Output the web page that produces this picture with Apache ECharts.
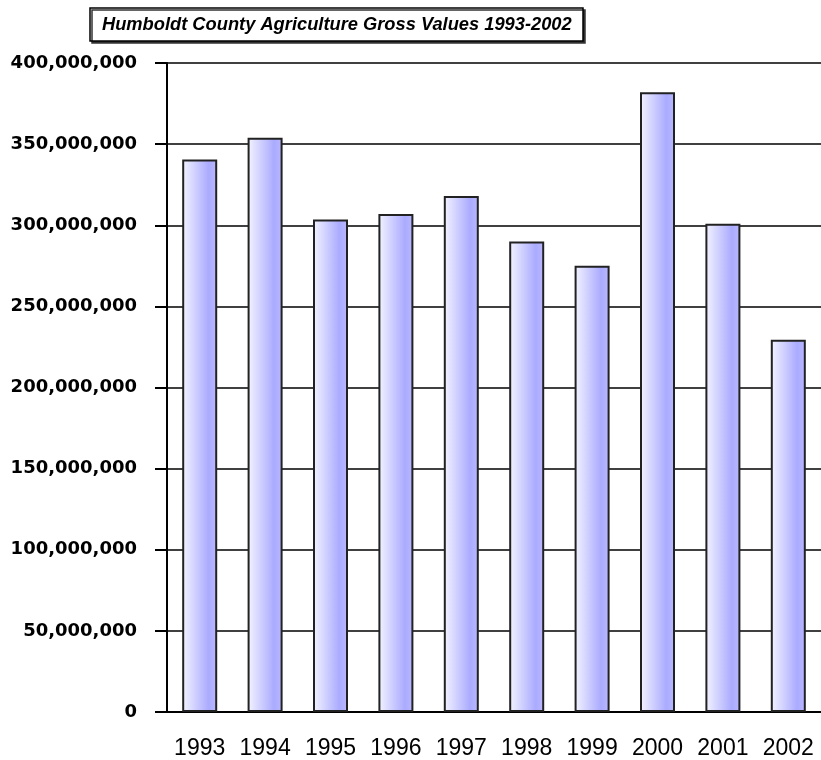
<!DOCTYPE html>
<html><head><meta charset="utf-8">
<script src="https://cdn.jsdelivr.net/npm/echarts@6/dist/echarts.min.js"></script>
<style>html,body{margin:0;padding:0;background:#fff}#c{width:821px;height:760px}</style>
</head><body><div id="c"></div>
<script>
const titleText = "Humboldt County Agriculture Gross Values 1993-2002";
const years = ["1993","1994","1995","1996","1997","1998","1999","2000","2001","2002"];
const values = [340500000, 354000000, 303500000, 307000000, 318000000, 290000000, 275000000, 382000000, 301000000, 229500000];
const yTicks = [0, 50000000, 100000000, 150000000, 200000000, 250000000, 300000000, 350000000, 400000000];

const chart = echarts.init(document.getElementById('c'), null, {renderer:'canvas'});
chart.setOption({
  animation: false,
  backgroundColor: '#fff',
  title: {
    text: titleText,
    left: 90, top: 8,
    padding: [8, 12, 7, 12],
    backgroundColor: '#fff',
    borderColor: '#000',
    borderWidth: 1.5,
    shadowColor: '#333',
    shadowBlur: 0,
    shadowOffsetX: 2,
    shadowOffsetY: 2,
    textStyle: {fontFamily: 'Liberation Sans', fontStyle: 'italic', fontWeight: 'bold', fontSize: 18.3, color: '#000'}
  },
  grid: {left: 167, right: 0, top: 63, bottom: 47, containLabel: false},
  xAxis: {
    type: 'category', data: years,
    axisLine: {lineStyle: {color: '#000', width: 2}},
    axisTick: {alignWithLabel: true, interval: 0, length: 14, lineStyle: {color: '#000', width: 2}},
    axisLabel: {interval: 0, hideOverlap: false, margin: 25, fontFamily: 'Liberation Sans', fontSize: 23, color: '#000'}
  },
  yAxis: {
    type: 'value', min: 0, max: 400000000, interval: 50000000,
    axisLine: {show: true, lineStyle: {color: '#000', width: 2}},
    axisTick: {show: true, length: 12, lineStyle: {color: '#000', width: 2}},
    splitLine: {show: true, lineStyle: {color: '#000', width: 1.5}},
    axisLabel: {margin: 30, fontFamily: 'DejaVu Sans', fontWeight: 'bold', fontSize: 18, color: '#000',
      formatter: v => v.toLocaleString('en-US')}
  },
  series: [{
    type: 'bar', data: values, barWidth: 35,
    itemStyle: {
      borderColor: '#222', borderWidth: 2,
      color: {type: 'linear', x: 0, y: 0, x2: 1, y2: 0, colorStops: [
        {offset: 0, color: '#f4f4ff'},
        {offset: 0.75, color: '#ababff'},
        {offset: 1, color: '#b8b8ff'}
      ]}
    }
  }]
});
</script></body></html>
